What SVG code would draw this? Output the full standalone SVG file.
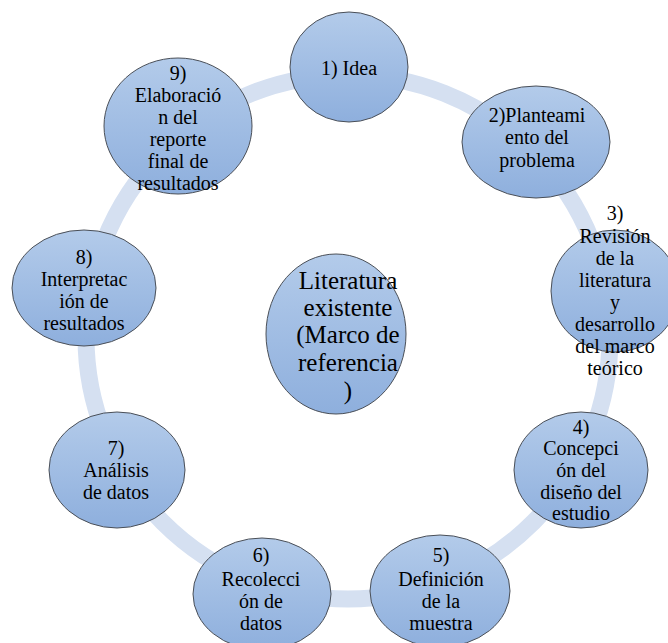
<svg xmlns="http://www.w3.org/2000/svg" width="668" height="643" viewBox="0 0 668 643">
<defs>
<linearGradient id="g" x1="0" y1="0" x2="0" y2="1">
<stop offset="0" stop-color="#b3cbea"/>
<stop offset="1" stop-color="#8eafdd"/>
</linearGradient>
<style>
.n{fill:url(#g);stroke:#4a4f57;stroke-width:1}
.t{font-family:"Liberation Serif","Times New Roman",serif;font-size:20px;fill:#000;text-anchor:middle}
.c{font-size:25px}
.ring{fill:none;stroke:#d5e0f1;stroke-width:17}
</style>
</defs>
<rect width="668" height="643" fill="#fff"/>
<g id="connectors">
<circle class="ring" cx="348" cy="337" r="262"/>
</g>
<g id="center">
<ellipse class="n" cx="336" cy="334" rx="70" ry="80"/>
<text class="t c"><tspan x="348" y="289">Literatura</tspan><tspan x="348" y="316">existente</tspan><tspan x="348" y="343">(Marco de</tspan><tspan x="348" y="371">referencia</tspan><tspan x="348" y="399">)</tspan></text>
</g>
<g id="n1">
<ellipse class="n" cx="349" cy="67" rx="59" ry="55"/>
<text class="t"><tspan x="349" y="75">1) Idea</tspan></text>
</g>
<g id="n2">
<ellipse class="n" cx="536" cy="142" rx="74" ry="56"/>
<text class="t"><tspan x="537" y="122">2)Planteami</tspan><tspan x="537" y="144">ento del</tspan><tspan x="537" y="167">problema</tspan></text>
</g>
<g id="n3">
<ellipse class="n" cx="615" cy="291" rx="64" ry="61"/>
<text class="t"><tspan x="615" y="220">3)</tspan><tspan x="615" y="243">Revisión</tspan><tspan x="615" y="265">de la</tspan><tspan x="615" y="287">literatura</tspan><tspan x="615" y="309">y</tspan><tspan x="615" y="331">desarrollo</tspan><tspan x="615" y="353">del marco</tspan><tspan x="615" y="375">teórico</tspan></text>
</g>
<g id="n4">
<ellipse class="n" cx="581" cy="470" rx="67" ry="58"/>
<text class="t"><tspan x="581" y="434">4)</tspan><tspan x="581" y="455">Concepci</tspan><tspan x="581" y="477">ón del</tspan><tspan x="581" y="499">diseño del</tspan><tspan x="581" y="520">estudio</tspan></text>
</g>
<g id="n5">
<ellipse class="n" cx="440" cy="591" rx="70" ry="56"/>
<text class="t"><tspan x="441" y="562">5)</tspan><tspan x="441" y="586">Definición</tspan><tspan x="441" y="608">de la</tspan><tspan x="441" y="630">muestra</tspan></text>
</g>
<g id="n6">
<ellipse class="n" cx="262" cy="594" rx="69" ry="56"/>
<text class="t"><tspan x="261" y="562">6)</tspan><tspan x="261" y="586">Recolecci</tspan><tspan x="261" y="608">ón de</tspan><tspan x="261" y="630">datos</tspan></text>
</g>
<g id="n7">
<ellipse class="n" cx="117" cy="470" rx="68" ry="58"/>
<text class="t"><tspan x="116" y="455">7)</tspan><tspan x="116" y="477">Análisis</tspan><tspan x="116" y="499">de datos</tspan></text>
</g>
<g id="n8">
<ellipse class="n" cx="84" cy="288" rx="72" ry="58"/>
<text class="t"><tspan x="84" y="264">8)</tspan><tspan x="84" y="286">Interpretac</tspan><tspan x="84" y="308">ión de</tspan><tspan x="84" y="330">resultados</tspan></text>
</g>
<g id="n9">
<ellipse class="n" cx="178" cy="126" rx="74" ry="68"/>
<text class="t"><tspan x="178" y="80">9)</tspan><tspan x="178" y="102">Elaboració</tspan><tspan x="178" y="124">n del</tspan><tspan x="178" y="146">reporte</tspan><tspan x="178" y="168">final de</tspan><tspan x="178" y="190">resultados</tspan></text>
</g>
</svg>
